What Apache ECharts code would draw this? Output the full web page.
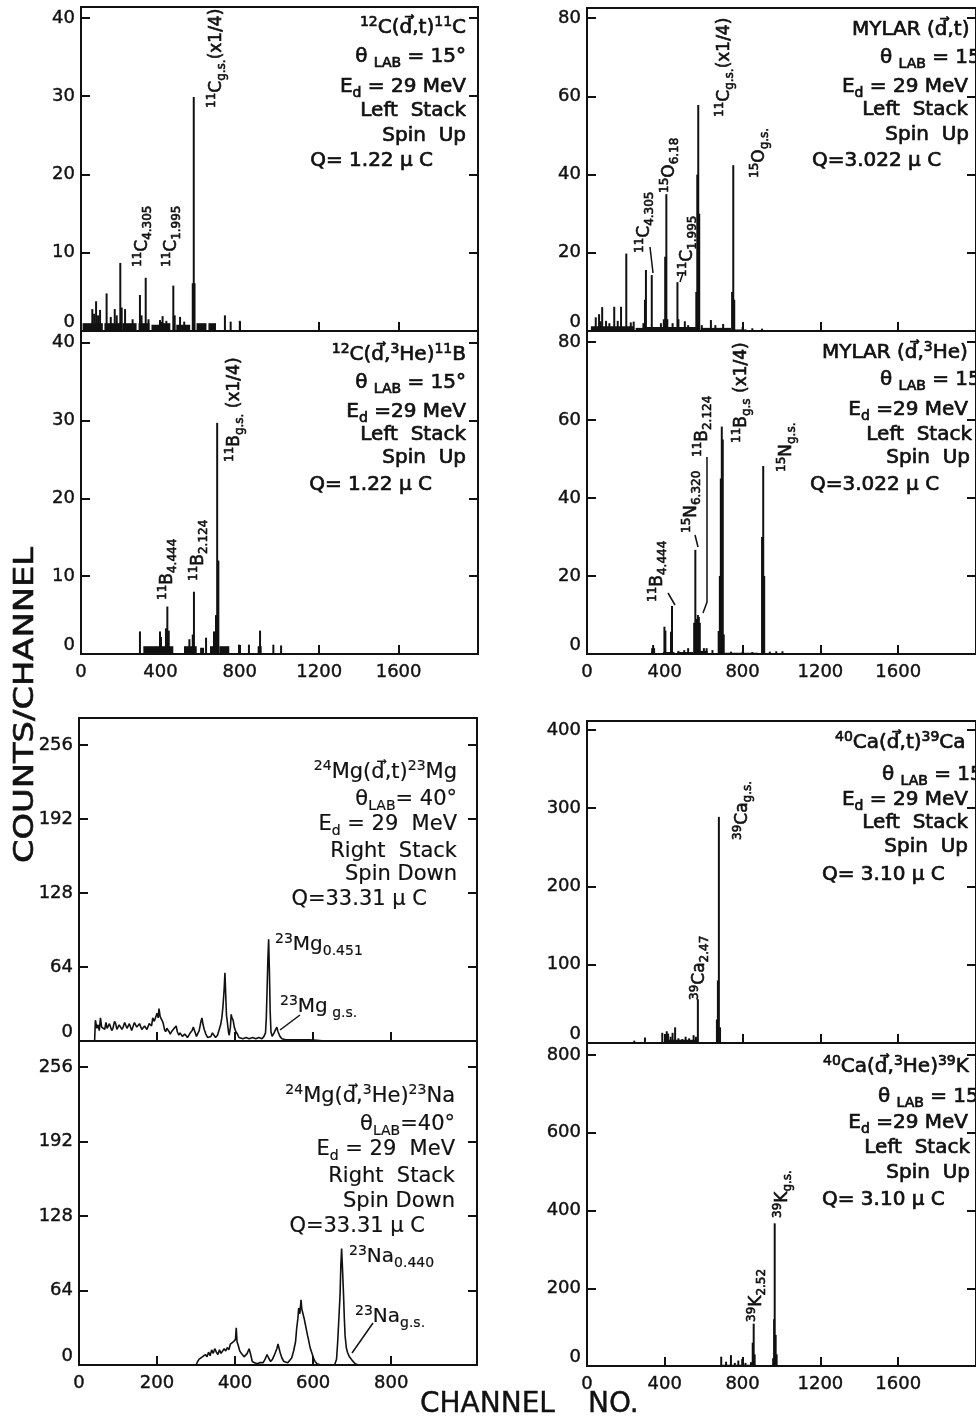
<!DOCTYPE html>
<html>
<head>
<meta charset="utf-8">
<script src="https://cdn.jsdelivr.net/npm/echarts@6/dist/echarts.min.js"></script>
<style>
  html, body { margin: 0; padding: 0; background: #fff; }
  #chart { width: 976px; height: 1422px; }
</style>
</head>
<body>
<div id="chart"></div>
<script>
// tick labels
var ticksC = [0, 10, 20, 30, 40];
var ticksMylar = [0, 20, 40, 60, 80];
var ticksMg = [0, 64, 128, 192, 256];
var ticksCa = [0, 100, 200, 300, 400];
var ticksK = [0, 200, 400, 600, 800];
var chanWide = [0, 400, 800, 1200, 1600];
var chanNarrow = [0, 200, 400, 600, 800];

// 12C(d,t)11C : peaks [channel, counts], floor [from, to, counts]
var cTritonPeaks = [[57, 2.8], [66, 2.2], [76, 3.8], [86, 2.0], [96, 2.7], [129, 4.8], [150, 1.8], [170, 2.8], [180, 2.0],
  [198, 8.7], [205, 3.0], [222, 2.8], [260, 1.5], [297, 4.6], [305, 2.0], [326, 6.8], [340, 1.5], [398, 1.4], [411, 1.9],
  [430, 1.3], [465, 5.8], [472, 2.0], [499, 1.8], [520, 1.2], [563, 6.1], [568, 29.9], [572, 6.1], [725, 2.0], [754, 1.2], [800, 1.3]];
var cTritonFloor = [[8, 110, 1], [118, 200, 1], [208, 280, 1], [290, 345, 1], [355, 395, 0.8], [405, 450, 1], [480, 550, 0.8], [582, 632, 1], [642, 680, 1]];

// 12C(d,3He)11B
var cHe3Peaks = [[297, 2.9], [398, 2.9], [403, 2.2], [428, 3.3], [435, 6.1], [442, 3.0], [546, 1.9], [563, 2.5], [569, 8.0],
  [630, 2.1], [670, 2.9], [680, 5.0], [686, 29.7], [692, 12], [796, 1.2], [846, 1.2], [902, 3.0], [969, 1.2], [1008, 1.1]];
var cHe3Floor = [[314, 465, 1], [519, 583, 1], [600, 620, 0.8], [650, 675, 1], [697, 747, 1], [890, 910, 1]];

// MYLAR (d,t)
var mylarTritonPeaks = [[45, 3.5], [62, 4.3], [70, 2.5], [78, 6.1], [98, 2.6], [115, 2.0], [140, 6.2], [158, 2.6], [175, 6.2],
  [202, 19.8], [225, 2.2], [240, 2.4], [290, 2.0], [298, 8], [303, 15.6], [333, 14.3], [380, 2.0], [395, 3.0], [402, 19],
  [408, 35], [413, 3.0], [440, 2.0], [465, 12.5], [470, 3], [503, 2.5], [520, 1.5], [562, 10], [567, 40], [572, 57.8],
  [577, 30], [590, 1.5], [637, 2.8], [660, 1.5], [700, 1.8], [746, 10], [752, 42.4], [757, 8], [800, 1.0], [850, 0.7], [900, 0.6]];
var mylarTritonFloor = [[20, 240, 1.2], [250, 300, 0.8], [305, 560, 1.0], [585, 740, 0.8], [760, 820, 0.4]];

// MYLAR (d,3He)
var mylarHe3Peaks = [[335, 1.5], [340, 2.3], [345, 1.5], [398, 7.0], [403, 6.0], [432, 5.7], [437, 12.3], [470, 0.8], [500, 1.0],
  [520, 1.5], [551, 8], [557, 26.7], [563, 9], [570, 10], [575, 9.5], [580, 8], [601, 1.5], [615, 1.5], [645, 1.0], [677, 5.9],
  [683, 20], [688, 45], [693, 58.3], [698, 55], [703, 5], [740, 0.6], [800, 0.6], [850, 0.5], [900, 30], [906, 48.2], [911, 20],
  [940, 0.6], [973, 0.7], [1005, 0.7]];
var mylarHe3Floor = [[330, 350, 0.6], [390, 450, 0.5], [465, 545, 0.5], [555, 620, 0.8], [705, 880, 0.3]];

// 40Ca(d,t)39Ca
var caTritonPeaks = [[243, 3], [298, 7], [387, 13], [410, 15], [417, 12], [430, 8], [440, 13], [453, 20], [470, 6], [490, 5],
  [507, 8], [525, 6], [548, 10], [560, 8], [570, 56], [668, 30], [673, 80], [678, 289], [684, 20]];
var caTritonFloor = [[400, 570, 4]];

// 40Ca(d,3He)39K
var caHe3Peaks = [[690, 24], [715, 11], [740, 28], [760, 8], [778, 14], [798, 18], [815, 8], [843, 10], [852, 60], [857, 109],
  [862, 30], [957, 20], [962, 120], [965, 367], [970, 80], [975, 30]];
var caHe3Floor = [[690, 870, 3]];

// 24Mg(d,t)23Mg  [channel, counts]
var mgTriton = [[40, 0], [42, 18], [46, 11], [49, 14], [52, 9], [55, 20], [58, 12], [62, 13], [66, 10], [69, 16], [72, 11], [75, 10],
  [78, 15], [81, 14], [84, 9], [87, 11], [91, 17], [94, 15], [97, 10], [100, 9], [103, 14], [106, 13], [110, 10], [113, 12],
  [117, 16], [120, 16], [123, 11], [126, 11], [129, 15], [132, 14], [135, 9], [138, 10], [142, 16], [145, 17], [148, 12],
  [151, 12], [155, 15], [158, 14], [161, 10], [164, 10], [168, 13], [171, 13], [174, 10], [177, 11], [180, 15], [183, 16],
  [186, 13], [189, 20], [193, 17], [196, 18], [200, 24], [203, 20], [205, 28], [208, 21], [211, 20], [214, 17], [216, 15],
  [219, 10], [222, 8], [225, 11], [228, 12], [231, 8], [234, 6], [237, 8], [240, 9], [244, 11], [249, 13], [252, 8], [256, 5],
  [259, 7], [262, 8], [265, 4], [268, 3], [271, 6], [274, 6], [278, 3], [281, 4], [285, 7], [290, 9], [293, 12], [296, 12],
  [299, 6], [301, 4], [305, 5], [308, 9], [312, 16], [315, 20], [318, 14], [321, 10], [325, 6], [330, 3], [334, 2], [338, 4],
  [342, 7], [346, 8], [350, 3], [355, 5], [359, 6], [363, 14], [366, 20], [369, 30], [372, 45], [374, 59], [376, 40], [378, 22],
  [380, 17], [383, 8], [385, 5], [388, 12], [390, 23], [392, 20], [395, 18], [398, 12], [402, 8], [406, 6], [410, 3], [415, 4],
  [420, 2], [428, 3], [436, 2], [445, 3], [453, 2], [461, 3], [469, 2], [474, 4], [478, 7], [480, 20], [482, 44], [484, 70],
  [486, 88], [488, 60], [490, 25], [492, 8], [495, 4], [500, 7], [504, 10], [507, 12], [510, 8], [515, 4], [520, 2], [530, 1],
  [550, 1], [570, 1], [590, 1], [610, 0.5], [630, 0]];

// 24Mg(d,3He)23Na
var mgHe3 = [[300, 0], [304, 3], [308, 5], [312, 4], [316, 7], [320, 6], [324, 9], [328, 7], [332, 11], [336, 8], [340, 13],
  [344, 10], [348, 14], [352, 11], [356, 9], [360, 13], [364, 10], [368, 11], [372, 14], [376, 12], [380, 15], [384, 13],
  [388, 18], [392, 17], [396, 20], [399, 19], [401, 22], [403, 32], [405, 20], [408, 17], [412, 12], [416, 10], [419, 10],
  [423, 7], [427, 6], [431, 10], [436, 14], [440, 9], [444, 3], [450, 2], [457, 1], [463, 2], [468, 3], [472, 2], [477, 5],
  [482, 9], [486, 6], [491, 3], [496, 5], [500, 8], [504, 9], [507, 14], [510, 18], [513, 14], [516, 10], [520, 6], [525, 3],
  [529, 2], [535, 2], [540, 3], [545, 6], [550, 12], [555, 20], [558, 32], [561, 40], [563, 49], [566, 44], [569, 56], [571, 48],
  [574, 44], [577, 40], [580, 35], [583, 30], [586, 25], [588, 22], [591, 17], [594, 13], [597, 10], [601, 6], [605, 3],
  [610, 1], [620, 0], [655, 0], [660, 5], [663, 20], [666, 40], [669, 60], [671, 85], [673, 100], [675, 85], [678, 60],
  [680, 40], [682, 25], [685, 15], [688, 11], [690, 10], [693, 7], [697, 8], [700, 4], [703, 3], [708, 1], [716, 0]];

var INK = '#111';
var FONT = 'DejaVu Sans';

var chart = echarts.init(document.getElementById('chart'));

var grids = [
    { left: 81, top: 7, width: 397, height: 324 },
    { left: 81, top: 331, width: 397, height: 323 },
    { left: 79, top: 718, width: 398, height: 323 },
    { left: 79, top: 1041, width: 398, height: 324 },
    { left: 587, top: 8, width: 395, height: 323 },
    { left: 587, top: 331, width: 395, height: 323 },
    { left: 587, top: 721, width: 395, height: 322 },
    { left: 587, top: 1043, width: 395, height: 323 }
].map(function (g) {
    g.show = true;
    g.borderColor = INK;
    g.borderWidth = 2;
    g.containLabel = false;
    return g;
});

function plain(v) {
    return String(v);
}

var tickLabel = { color: INK, fontSize: 18, fontFamily: FONT, textBorderColor: INK, textBorderWidth: 0.4, formatter: plain };

function xAxis(i, max, ticks, labels) {
    return {
        type: 'value', gridIndex: i, min: 0, max: max, position: 'bottom',
        axisLine: { show: false }, splitLine: { show: false },
        axisTick: { inside: true, length: 9, lineStyle: { color: INK, width: 2 }, customValues: ticks.slice(1) },
        axisLabel: Object.assign({ show: labels, customValues: ticks, margin: 9 }, tickLabel)
    };
}

function yAxis(i, max, ticks, pos) {
    return {
        type: 'value', gridIndex: i, min: 0, max: max, position: pos,
        axisLine: { show: false }, splitLine: { show: false },
        axisTick: { inside: true, length: 9, lineStyle: { color: INK, width: 2 }, customValues: ticks },
        axisLabel: Object.assign({ show: pos === 'left', customValues: ticks, margin: 6, verticalAlignMinLabel: 'bottom' }, tickLabel)
    };
}

var xAxes = [
    xAxis(0, 2000, chanWide, false),
    xAxis(1, 2000, chanWide, true),
    xAxis(2, 1020, chanNarrow, false),
    xAxis(3, 1020, chanNarrow, true),
    xAxis(4, 2000, chanWide, false),
    xAxis(5, 2000, chanWide, true),
    xAxis(6, 2000, chanWide, false),
    xAxis(7, 2000, chanWide, true)
];

var yMax = [41.4, 41.5, 279.4, 278.3, 82.6, 82.8, 411.5, 830.9];
var yTicks = [ticksC, ticksC, ticksMg, ticksMg, ticksMylar, ticksMylar, ticksCa, ticksK];
var yAxes = [];
yMax.forEach(function (m, i) {
    yAxes.push(yAxis(i, m, yTicks[i], 'left'));
    yAxes.push(yAxis(i, m, yTicks[i], 'right'));
});

function spike(params, api) {
    var top = api.coord([api.value(0), api.value(1)]);
    var base = api.coord([api.value(0), 0]);
    return { type: 'rect', shape: { x: top[0] - 1, y: top[1], width: 2, height: base[1] - top[1] }, style: { fill: INK } };
}

function block(params, api) {
    var a = api.coord([api.value(0), api.value(2)]);
    var b = api.coord([api.value(1), 0]);
    return { type: 'rect', shape: { x: a[0], y: a[1], width: b[0] - a[0], height: b[1] - a[1] }, style: { fill: INK } };
}

function spikes(i, peaks, floor) {
    return [
        { type: 'custom', xAxisIndex: i, yAxisIndex: i * 2, renderItem: spike, data: peaks, encode: { x: 0, y: 1 }, silent: true },
        { type: 'custom', xAxisIndex: i, yAxisIndex: i * 2, renderItem: block, data: floor, encode: { x: [0, 1], y: 2 }, silent: true }
    ];
}

function curve(i, data) {
    return {
        type: 'line', xAxisIndex: i, yAxisIndex: i * 2, data: data, symbol: 'none', silent: true,
        lineStyle: { color: INK, width: 1.6 }
    };
}

var series = [].concat(
    spikes(0, cTritonPeaks, cTritonFloor),
    spikes(1, cHe3Peaks, cHe3Floor),
    [curve(2, mgTriton), curve(3, mgHe3)],
    spikes(4, mylarTritonPeaks, mylarTritonFloor),
    spikes(5, mylarHe3Peaks, mylarHe3Floor),
    spikes(6, caTritonPeaks, caTritonFloor),
    spikes(7, caHe3Peaks, caHe3Floor)
);

// annotation text: {sup|..} superscript, {sub|..} subscript
function txt(x, y, s, align, size, rot, stroke) {
    size = size || 20;
    stroke = stroke === undefined ? 0.7 : stroke;
    var small = Math.round(size * 0.68);
    var extra = { fontFamily: FONT, fill: INK, stroke: INK, lineWidth: stroke };
    return {
        type: 'text', x: x, y: y, rotation: rot ? Math.PI / 2 : 0, z: 10,
        style: {
            text: s, fill: INK, stroke: INK, lineWidth: stroke, fontSize: size, fontFamily: FONT,
            lineHeight: Math.round(size * 1.3), align: align || 'right', verticalAlign: 'middle',
            rich: {
                sup: Object.assign({ fontSize: small, verticalAlign: 'top' }, extra),
                sub: Object.assign({ fontSize: small, verticalAlign: 'bottom' }, extra)
            }
        }
    };
}
function thin(x, y, s, align, size) {
    return txt(x, y, s, align, size, false, 0.2);
}
function peak(x, yBottom, s) {
    return txt(x, yBottom, s, 'left', 17, true, 0.6);
}
function lead(points) {
    return { type: 'polyline', z: 10, shape: { points: points }, style: { stroke: INK, lineWidth: 1.5, fill: null } };
}

var D = 'd\u20D7';
var graphics = [
    // 12C(d,t)11C
    txt(466, 28, '{sup|12}C(' + D + ',t){sup|11}C'),
    txt(466, 57, '\u03B8 {sub|LAB} = 15\u00B0'),
    txt(466, 87, 'E{sub|d} = 29 MeV'),
    txt(466, 111, 'Left  Stack'),
    txt(466, 136, 'Spin  Up'),
    txt(433, 161, 'Q= 1.22 \u03BC C'),
    peak(217, 108, '{sup|11}C{sub|g.s.}(x1/4)'),
    peak(143, 267, '{sup|11}C{sub|4.305}'),
    peak(172, 267, '{sup|11}C{sub|1.995}'),
    // 12C(d,3He)11B
    txt(466, 355, '{sup|12}C(' + D + ',{sup|3}He){sup|11}B'),
    txt(466, 383, '\u03B8 {sub|LAB} = 15\u00B0'),
    txt(466, 412, 'E{sub|d} =29 MeV'),
    txt(466, 435, 'Left  Stack'),
    txt(466, 458, 'Spin  Up'),
    txt(432, 485, 'Q= 1.22 \u03BC C'),
    peak(235, 462, '{sup|11}B{sub|g.s.} (x1/4)'),
    peak(168, 600, '{sup|11}B{sub|4.444}'),
    peak(199, 581, '{sup|11}B{sub|2.124}'),
    // 24Mg(d,t)23Mg
    thin(457, 773, '{sup|24}Mg(' + D + ',t){sup|23}Mg', 'right', 21),
    thin(457, 800, '\u03B8{sub|LAB}= 40\u00B0', 'right', 21),
    thin(457, 825, 'E{sub|d} = 29  MeV', 'right', 21),
    thin(457, 852, 'Right  Stack', 'right', 21),
    thin(457, 875, 'Spin Down', 'right', 21),
    thin(427, 900, 'Q=33.31 \u03BC C', 'right', 21),
    thin(275, 945, '{sup|23}Mg{sub|0.451}', 'left', 20),
    thin(280, 1007, '{sup|23}Mg{sub| g.s.}', 'left', 20),
    lead([[300, 1015], [280, 1030]]),
    // 24Mg(d,3He)23Na
    thin(455, 1097, '{sup|24}Mg(' + D + ',{sup|3}He){sup|23}Na', 'right', 21),
    thin(455, 1125, '\u03B8{sub|LAB}=40\u00B0', 'right', 21),
    thin(455, 1150, 'E{sub|d} = 29  MeV', 'right', 21),
    thin(455, 1177, 'Right  Stack', 'right', 21),
    thin(455, 1202, 'Spin Down', 'right', 21),
    thin(425, 1227, 'Q=33.31 \u03BC C', 'right', 21),
    thin(349, 1257, '{sup|23}Na{sub|0.440}', 'left', 20),
    thin(355, 1317, '{sup|23}Na{sub|g.s.}', 'left', 20),
    lead([[373, 1323], [352, 1353]]),
    // MYLAR (d,t)
    txt(852, 30, 'MYLAR (' + D + ',t)', 'left'),
    txt(880, 58, '\u03B8 {sub|LAB} = 15\u00B0', 'left'),
    txt(968, 87, 'E{sub|d} = 29 MeV'),
    txt(968, 110, 'Left  Stack'),
    txt(969, 135, 'Spin  Up'),
    txt(812, 161, 'Q=3.022 \u03BC C', 'left'),
    peak(725, 117, '{sup|11}C{sub|g.s.}(x1/4)'),
    peak(760, 178, '{sup|15}O{sub|g.s.}'),
    peak(670, 193, '{sup|15}O{sub|6.18}'),
    peak(645, 253, '{sup|11}C{sub|4.305}'),
    peak(688, 277, '{sup|11}C{sub|1.995}'),
    lead([[650, 247], [653, 273]]),
    lead([[683, 273], [680, 282]]),
    // MYLAR (d,3He)
    txt(822, 353, 'MYLAR (' + D + ',{sup|3}He)', 'left'),
    txt(880, 380, '\u03B8 {sub|LAB} = 15\u00B0', 'left'),
    txt(968, 410, 'E{sub|d} =29 MeV'),
    txt(972, 435, 'Left  Stack'),
    txt(970, 458, 'Spin  Up'),
    txt(810, 485, 'Q=3.022 \u03BC C', 'left'),
    peak(742, 443, '{sup|11}B{sub|g.s} (x1/4)'),
    peak(787, 472, '{sup|15}N{sub|g.s.}'),
    peak(703, 457, '{sup|11}B{sub|2.124}'),
    peak(692, 533, '{sup|15}N{sub|6.320}'),
    peak(658, 602, '{sup|11}B{sub|4.444}'),
    lead([[707, 457], [707, 602], [703, 613]]),
    lead([[695, 535], [698, 547]]),
    lead([[668, 593], [675, 605]]),
    // 40Ca(d,t)39Ca
    txt(835, 743, '{sup|40}Ca(' + D + ',t){sup|39}Ca', 'left'),
    txt(882, 775, '\u03B8 {sub|LAB} = 15\u00B0', 'left'),
    txt(968, 800, 'E{sub|d} = 29 MeV'),
    txt(968, 823, 'Left  Stack'),
    txt(968, 847, 'Spin  Up'),
    txt(822, 875, 'Q= 3.10 \u03BC C', 'left'),
    peak(743, 840, '{sup|39}Ca{sub|g.s.}'),
    peak(700, 1000, '{sup|39}Ca{sub|2.47}'),
    // 40Ca(d,3He)39K
    txt(823, 1067, '{sup|40}Ca(' + D + ',{sup|3}He){sup|39}K', 'left'),
    txt(878, 1097, '\u03B8 {sub|LAB} = 15\u00B0', 'left'),
    txt(968, 1123, 'E{sub|d} =29 MeV'),
    txt(970, 1148, 'Left  Stack'),
    txt(970, 1173, 'Spin  Up'),
    txt(822, 1200, 'Q= 3.10 \u03BC C', 'left'),
    peak(783, 1218, '{sup|39}K{sub|g.s.}'),
    peak(757, 1322, '{sup|39}K{sub|2.52}'),
    // axis titles
    {
        type: 'text', x: 26, y: 705, rotation: Math.PI / 2, scaleX: 1.25,
        style: { text: 'COUNTS/CHANNEL', fill: INK, stroke: INK, lineWidth: 0.6, fontSize: 27, fontFamily: FONT, align: 'center', verticalAlign: 'middle' }
    },
    { type: 'text', x: 420, y: 1405, style: { text: 'CHANNEL', fill: INK, stroke: INK, lineWidth: 0.4, fontSize: 28, fontFamily: FONT, align: 'left', verticalAlign: 'middle' } },
    { type: 'text', x: 588, y: 1405, style: { text: 'NO.', fill: INK, stroke: INK, lineWidth: 0.4, fontSize: 28, fontFamily: FONT, align: 'left', verticalAlign: 'middle' } }
];

chart.setOption({
    animation: false,
    backgroundColor: '#fff',
    grid: grids,
    xAxis: xAxes,
    yAxis: yAxes,
    series: series,
    graphic: graphics
});
</script>
</body>
</html>
